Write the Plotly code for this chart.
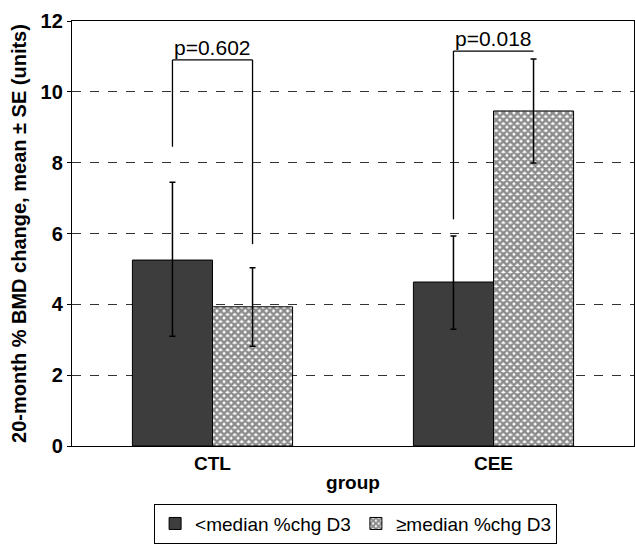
import plotly.graph_objects as go

# ---- data ----
groups = ["CTL", "CEE"]
series_names = ["<median %chg D3", "\u2265median %chg D3"]
low_means = [5.25, 4.63]
low_upper = [7.45, 5.93]
low_lower = [3.1, 3.3]
high_means = [3.93, 9.46]
high_upper = [5.03, 10.93]
high_lower = [2.82, 7.99]

p_labels = ["p=0.602", "p=0.018"]
bracket_top = [10.9, 11.15]
bracket_left_bottom = [8.45, 6.4]
bracket_right_bottom = [5.7, None]

y_ticks = [0, 2, 4, 6, 8, 10, 12]

FONT = "Liberation Sans, Arial, sans-serif"
xs = list(range(len(groups)))
off = 0.1425

fig = go.Figure()
fig.add_trace(go.Bar(
    x=xs, y=low_means, name=series_names[0],
    marker=dict(color="#3d3d3d", line=dict(color="black", width=1)),
    error_y=dict(type="data", symmetric=False,
                 array=[u - m for u, m in zip(low_upper, low_means)],
                 arrayminus=[m - l for l, m in zip(low_lower, low_means)],
                 color="black", thickness=1.5, width=3),
))
fig.add_trace(go.Bar(
    x=xs, y=high_means, name=series_names[1],
    marker=dict(color="white", line=dict(color="black", width=1),
                pattern=dict(shape="x", fgcolor="#1a1a1a", bgcolor="white",
                             size=5, solidity=0.75, fillmode="overlay")),
    error_y=dict(type="data", symmetric=False,
                 array=[u - m for u, m in zip(high_upper, high_means)],
                 arrayminus=[m - l for l, m in zip(high_lower, high_means)],
                 color="black", thickness=1.5, width=3),
))

shapes = []
annotations = []
for i, x in enumerate(xs):
    xl, xr = x - off, x + off
    top = bracket_top[i]
    shapes.append(dict(type="line", xref="x", yref="y", x0=xl, x1=xr, y0=top, y1=top,
                       line=dict(color="black", width=1.3)))
    shapes.append(dict(type="line", xref="x", yref="y", x0=xl, x1=xl,
                       y0=bracket_left_bottom[i], y1=top, line=dict(color="black", width=1.3)))
    if bracket_right_bottom[i] is not None:
        shapes.append(dict(type="line", xref="x", yref="y", x0=xr, x1=xr,
                           y0=bracket_right_bottom[i], y1=top, line=dict(color="black", width=1.3)))
    annotations.append(dict(x=x, y=top, xref="x", yref="y", text=p_labels[i],
                            showarrow=False, yanchor="bottom", yshift=-1,
                            font=dict(family=FONT, size=21, color="black")))

fig.update_layout(
    width=635, height=548,
    margin=dict(l=72, r=1, t=21, b=102),
    paper_bgcolor="white", plot_bgcolor="white",
    barmode="group", bargap=0.43, bargroupgap=0,
    font=dict(family=FONT, color="black"),
    shapes=shapes, annotations=annotations,
    showlegend=True,
    legend=dict(orientation="h", xref="container", yref="container",
                x=0.56, xanchor="center", y=0.008, yanchor="bottom",
                bordercolor="black", borderwidth=1, bgcolor="white",
                font=dict(family=FONT, size=19, color="black"),
                itemwidth=30, traceorder="normal", tracegroupgap=0),
)
fig.update_xaxes(
    range=[-0.5, 1.5], tickvals=xs, ticktext=groups, automargin=False,
    tickfont=dict(family=FONT, size=19, color="black", weight="bold"),
    title=dict(text="group", font=dict(family=FONT, size=19, color="black", weight="bold"),
               standoff=2),
    showline=True, linecolor="black", linewidth=1.3, mirror=True,
    ticks="", showgrid=False, zeroline=False,
)
fig.update_yaxes(
    range=[0, 12], tickvals=y_ticks, automargin=False,
    tickfont=dict(family=FONT, size=20, color="black", weight="bold"),
    title=dict(text="20-month % BMD change, mean \u00b1 SE (units)",
               font=dict(family=FONT, size=20, color="black", weight="bold"), standoff=8),
    showline=True, linecolor="black", linewidth=1.3, mirror=True,
    ticks="outside", ticklen=4, tickcolor="black",
    showgrid=True, gridcolor="#333333", griddash="dash", gridwidth=1,
    zeroline=False,
)

fig.write_html("out.html")
